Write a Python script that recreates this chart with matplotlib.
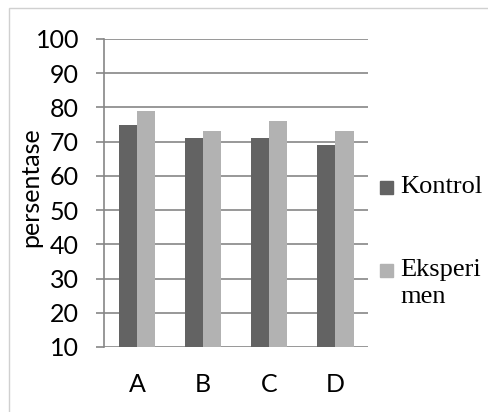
import numpy as np
import matplotlib.pyplot as plt
from matplotlib.patches import Rectangle

categories = ["A", "B", "C", "D"]
kontrol = [75, 71, 71, 69]
eksperimen = [79, 73, 76, 73]
series_names = ["Kontrol", "Eksperi\nmen"]
yticks = [10, 20, 30, 40, 50, 60, 70, 80, 90, 100]

dark = "#636363"
light = "#b2b2b2"
grid_col = "#868686"

fig = plt.figure(figsize=(4.89, 4.12), dpi=100)
ax = fig.add_axes([0.2127, 0.1578, 0.5399, 0.7476])

x = np.arange(len(categories))
w = 0.28
ax.bar(x - w / 2, kontrol, w, color=dark, zorder=3)
ax.bar(x + w / 2, eksperimen, w, color=light, zorder=3)

ax.set_xlim(-0.5, len(categories) - 0.5)
ax.set_ylim(10, 100)
ax.set_yticks(yticks)
ax.set_xticks(x)
ax.set_xticklabels(categories, fontfamily="Lato", fontsize=18)
ax.set_yticklabels([str(v) for v in yticks], fontfamily="Lato", fontsize=18)
ax.yaxis.grid(True, color=grid_col, linewidth=1.2, zorder=0)
ax.tick_params(axis="y", length=6, width=1.2, color=grid_col, pad=12)
ax.tick_params(axis="x", length=0, pad=19)
for s in ["top", "right", "bottom"]:
    ax.spines[s].set_visible(False)
ax.spines["left"].set_color(grid_col)
ax.spines["left"].set_linewidth(1.2)
ax.set_ylabel("persentase", fontfamily="Lato", fontsize=18)
ax.yaxis.set_label_coords(-0.235, 0.52)

# legend drawn by hand, to keep the handle on the first line of the label
sq_w, sq_h = 13 / 489, 13 / 412
line_pos = [[187], [270, 297]]
for name, col, ys in zip(series_names, [dark, light], line_pos):
    y0 = 1 - ys[0] / 412
    fig.patches.append(Rectangle((380 / 489, y0 - sq_h / 2), sq_w, sq_h,
                                 transform=fig.transFigure, color=col))
    for line, yp in zip(name.split("\n"), ys):
        fig.text(400 / 489, 1 - yp / 412, line, fontfamily="Liberation Serif",
                 fontsize=19, va="center", ha="left")

# outer chart frame
fig.patches.append(Rectangle((9 / 489, -0.05), 1.1, 1 - 8 / 412 + 0.05,
                             transform=fig.transFigure, fill=False,
                             edgecolor="#d0d0d0", linewidth=1))

fig.savefig("out.png", dpi=100)
